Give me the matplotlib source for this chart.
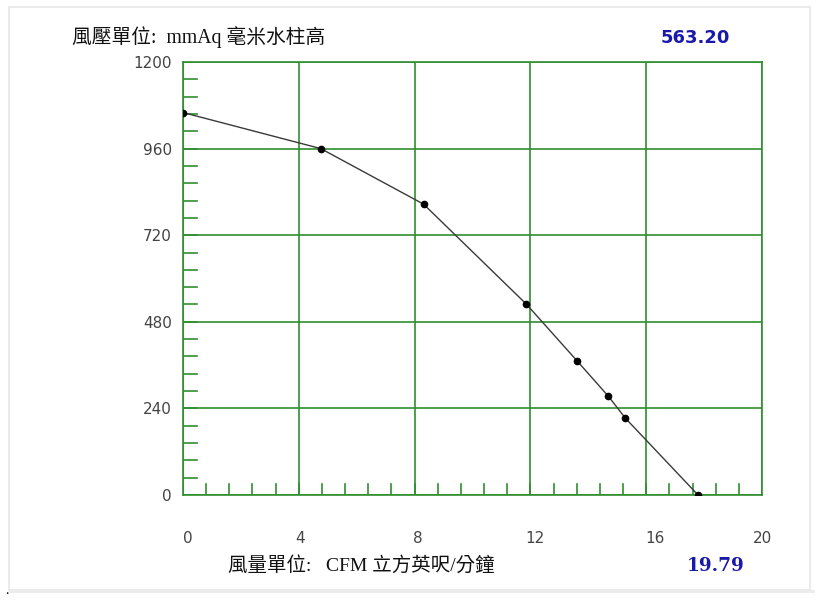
import numpy as np
import matplotlib.pyplot as plt
from matplotlib.patches import Rectangle
from matplotlib.transforms import ScaledTranslation

plt.rcParams['font.family'] = ['Noto Sans CJK TC', 'DejaVu Sans']

# fan curve: flow (CFM) vs static pressure (mmAq)
flow = [0.0, 4.76, 8.31, 11.86, 13.62, 14.69, 15.28, 17.79]
pressure = [1060, 960, 806, 529, 371, 274, 213, 0]

x_ticks = [0, 4, 8, 12, 16, 20]
y_ticks = [0, 240, 480, 720, 960, 1200]
y_title = '風壓單位:  mmAq 毫米水柱高'
x_title = '風量單位:   CFM 立方英呎/分鐘'
top_value = '563.20'
bottom_value = '19.79'

green = '#2f8f2f'
title_font = ['Liberation Serif', 'Noto Sans CJK TC']

fig = plt.figure(figsize=(8.23, 6.06), dpi=100)
fig.patch.set_facecolor('white')

# light panel frame
fig.add_artist(Rectangle((9 / 823, 1 - 590 / 606), 801 / 823, 583 / 606,
                         transform=fig.transFigure, fill=False,
                         edgecolor='#e6e6e6', linewidth=1.2))
fig.add_artist(Rectangle((9 / 823, 1 - 593 / 606), 806 / 823, 3 / 606,
                         transform=fig.transFigure, facecolor='#ececec',
                         edgecolor='none'))
fig.text(5 / 823, 1 - 591 / 606, '.', fontsize=9, color='black', va='center')

ax = fig.add_axes([183 / 823, 1 - 495 / 606, 579 / 823, 433 / 606])
ax.set_xlim(0, 20)
ax.set_ylim(0, 1200)

for x in x_ticks:
    ax.axvline(x, color=green, lw=1.2, zorder=1)
for y in y_ticks:
    ax.axhline(y, color=green, lw=1.2, zorder=1)

# inner minor ticks
for x in np.arange(0, 20.01, 0.8):
    ax.plot([x, x], [0, 30], color=green, lw=1.2, zorder=1)
for y in np.arange(0, 1200.1, 48):
    ax.plot([0, 0.5], [y, y], color=green, lw=1.2, zorder=1)

for s in ax.spines.values():
    s.set_color(green)
    s.set_linewidth(1.2)

ax.plot(flow, pressure, color='#3a3a3a', lw=1.0, marker='o',
        markersize=4.5, markerfacecolor='black', markeredgecolor='black', zorder=3)

ax.set_xticks(x_ticks)
ax.set_xticklabels([str(v) for v in x_ticks], family='DejaVu Sans')
ax.set_yticks(y_ticks)
ax.set_yticklabels([str(v) for v in y_ticks], family='DejaVu Sans')
ax.tick_params(length=0, labelsize=11, labelcolor='#444444')
ax.tick_params(axis='x', pad=26)
ax.tick_params(axis='y', pad=8)
for lbl, dx in zip(ax.get_xticklabels(), [5, 1, 3, 5, 9, 1]):
    lbl.set_transform(lbl.get_transform() + ScaledTranslation(dx / 100, 0, fig.dpi_scale_trans))

fig.text(72 / 823, 1 - 37 / 606, y_title, fontsize=14.2, va='center',
         color='#111111', family=title_font)
fig.text(695 / 823, 1 - 38 / 606, top_value, fontsize=13, fontweight='bold',
         va='center', ha='center', color='#1a1aaa', family='DejaVu Sans')
fig.text(228 / 823, 1 - 565 / 606, x_title, fontsize=14, va='center',
         color='#111111', family=title_font)
fig.text(716 / 823, 1 - 566 / 606, bottom_value, fontsize=13.3, fontweight='bold',
         va='center', ha='center', color='#1a1aaa', family='DejaVu Serif')

fig.savefig('out.png', dpi=100)
